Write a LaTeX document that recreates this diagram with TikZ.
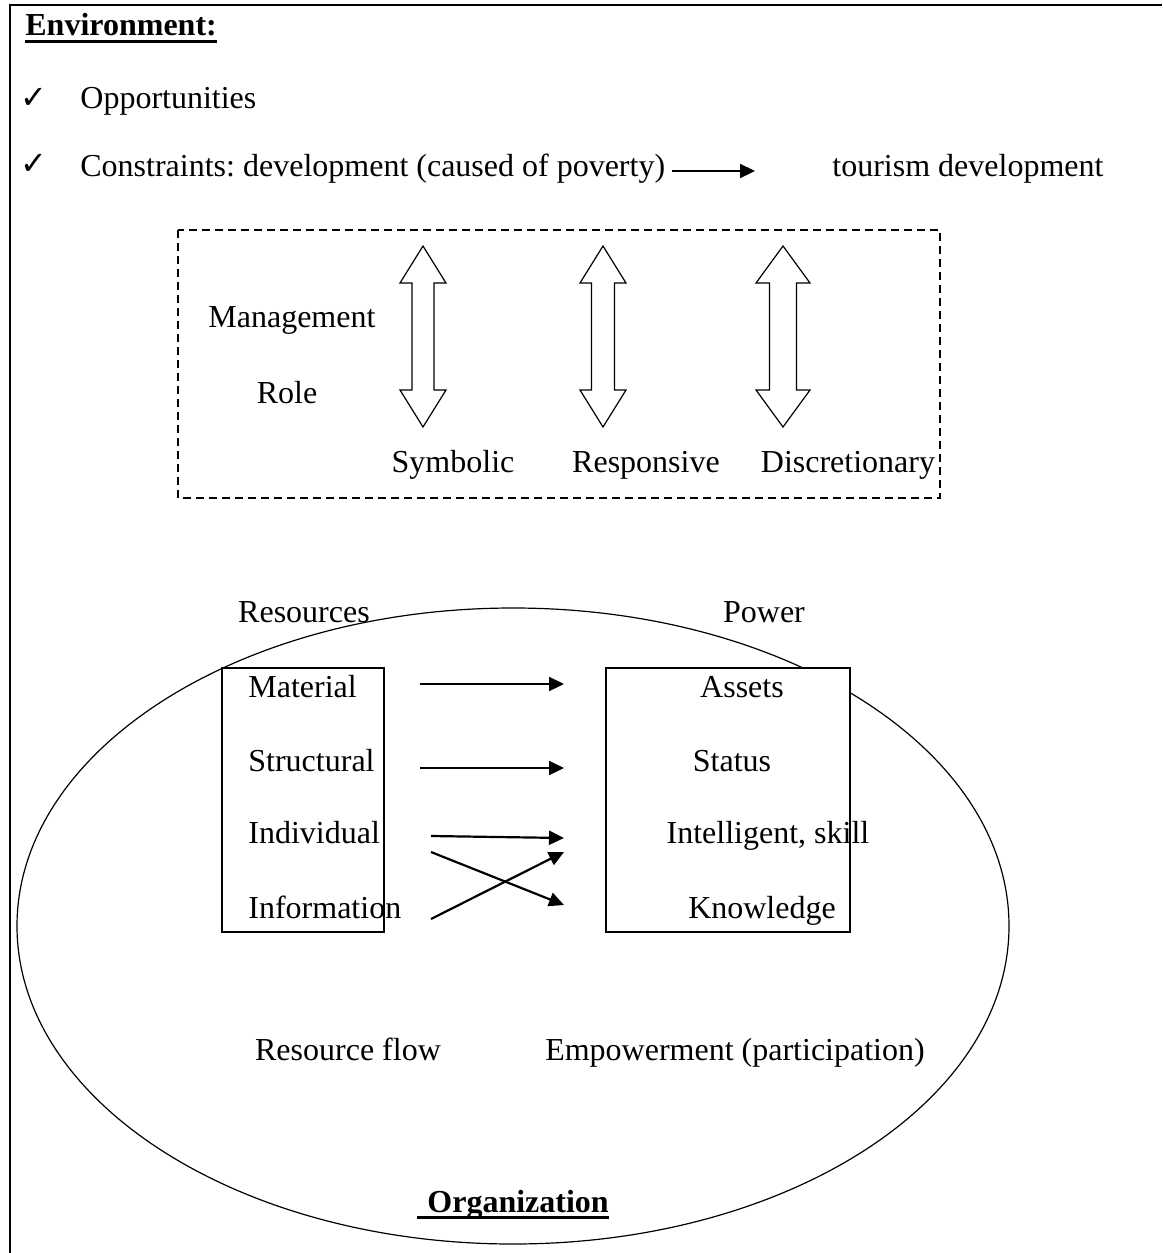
\documentclass[tikz,border=0pt]{standalone}
\usepackage{fontspec}
\setmainfont{Liberation Serif}
\newfontfamily\symfont{DejaVu Sans}
\usetikzlibrary{arrows.meta,calc}
\frenchspacing
\begin{document}
\begin{tikzpicture}[x=0.5pt,y=-0.5pt,
  txt/.style={inner sep=0pt, font=\fontsize{16}{19}\selectfont},
  btxt/.style={inner sep=0pt, font=\fontsize{16}{19}\selectfont\bfseries},
  ck/.style={inner sep=0pt, font=\symfont\fontsize{16}{16}\selectfont},
  arr/.style={line width=1.1pt, -{Triangle[length=7.5pt,width=7pt]}},
  dbl/.style={draw, line width=0.6pt, fill=white, line join=miter},
  framel/.style={line width=1pt},
  boxs/.style={draw, line width=0.8pt, fill=white},
  dashbox/.style={draw, line width=0.7pt, dash pattern=on 4pt off 2.5pt},
  ulined/.style={line width=1.5pt},
  orgell/.style={draw, line width=0.6pt},
  pics/dblarr/.style n args={2}{code={
    \draw[dbl] (0,-90.5) -- (#1,-53.5) -- (#2,-53.5) -- (#2,53.5) -- (#1,53.5)
      -- (0,90.5) -- (-#1,53.5) -- (-#2,53.5) -- (-#2,-53.5) -- (-#1,-53.5) -- cycle;
  }}
]
\useasboundingbox (0,0) rectangle (1162,1253);
% outer frame (only left and top visible)
\draw[framel] (10,1253) -- (10,5) -- (1162,5);

% Environment
\node[btxt, anchor=base west] (env) at (25,35) {Environment:};
\draw[ulined] ($(env.base west)+(0,6)$) -- ($(env.base east)+(0,6)$);
\node[ck] (ck1) at (33.5,98.5) {✓};
\node[txt, anchor=base west] (opp) at (80,108) {Opportunities};
\node[ck] (ck2) at (33.5,164) {✓};
\node[txt, anchor=base west] (con) at (80,176) {Constraints: development (caused of poverty)};
\node[txt, anchor=base west] (tour) at (832,176) {tourism development};
\coordinate (ca) at (672,171);
\coordinate (cb) at (755,171);
\draw[arr] (ca) -- (cb);

% Management role box
\draw[dashbox] (178,230) rectangle (940,498);
\pic at (423,336.5) {dblarr={23}{11}};
\pic at (603,336.5) {dblarr={23}{11.5}};
\pic at (783,336.5) {dblarr={27}{13.5}};
\node[txt, anchor=base west] (mgt) at (208,327) {Management};
\node[txt, anchor=base] (role) at (287,403) {Role};
\node[txt, anchor=base] (sym) at (453,472) {Symbolic};
\node[txt, anchor=base] (resp) at (646,472) {Responsive};
\node[txt, anchor=base] (disc) at (848,472) {Discretionary};

% Organization
\draw[orgell] (513,926) ellipse [x radius=248pt, y radius=159pt];
\node[txt, anchor=base] (res) at (304,622) {Resources};
\node[txt, anchor=base] (pow) at (764,622) {Power};
\draw[boxs] (222,668) rectangle (384,932);
\draw[boxs] (606,668) rectangle (850,932);

\node[txt, anchor=base west] (mat) at (248,697) {Material};
\node[txt, anchor=base west] (str) at (248,771) {Structural};
\node[txt, anchor=base west] (ind) at (248,843) {Individual};
\node[txt, anchor=base west] (inf) at (248,918) {Information};

\node[txt, anchor=base] (ass) at (742,697) {Assets};
\node[txt, anchor=base] (sta) at (732,771) {Status};
\node[txt, anchor=base] (int) at (768,843) {Intelligent, skill};
\node[txt, anchor=base] (kno) at (762,918) {Knowledge};

\coordinate (a1s) at (420,684);  \coordinate (a1e) at (564,684);
\coordinate (a2s) at (420,768);  \coordinate (a2e) at (564,768);
\coordinate (a3s) at (431,836);  \coordinate (a3e) at (564,838);
\coordinate (a4s) at (431,852);  \coordinate (a4e) at (564,905);
\coordinate (a5s) at (431,919);  \coordinate (a5e) at (564,852);
\draw[arr] (a1s) -- (a1e);
\draw[arr] (a2s) -- (a2e);
\draw[arr] (a3s) -- (a3e);
\draw[arr] (a4s) -- (a4e);
\draw[arr] (a5s) -- (a5e);

\node[txt, anchor=base] (rflow) at (348,1060) {Resource flow};
\node[txt, anchor=base] (emp) at (735,1060) {Empowerment (participation)};

\node[btxt, anchor=base west] (org) at (427,1212) {Organization};
\draw[ulined] ($(org.base west)+(-10,5.5)$) -- ($(org.base east)+(0,5.5)$);
\end{tikzpicture}
\end{document}
